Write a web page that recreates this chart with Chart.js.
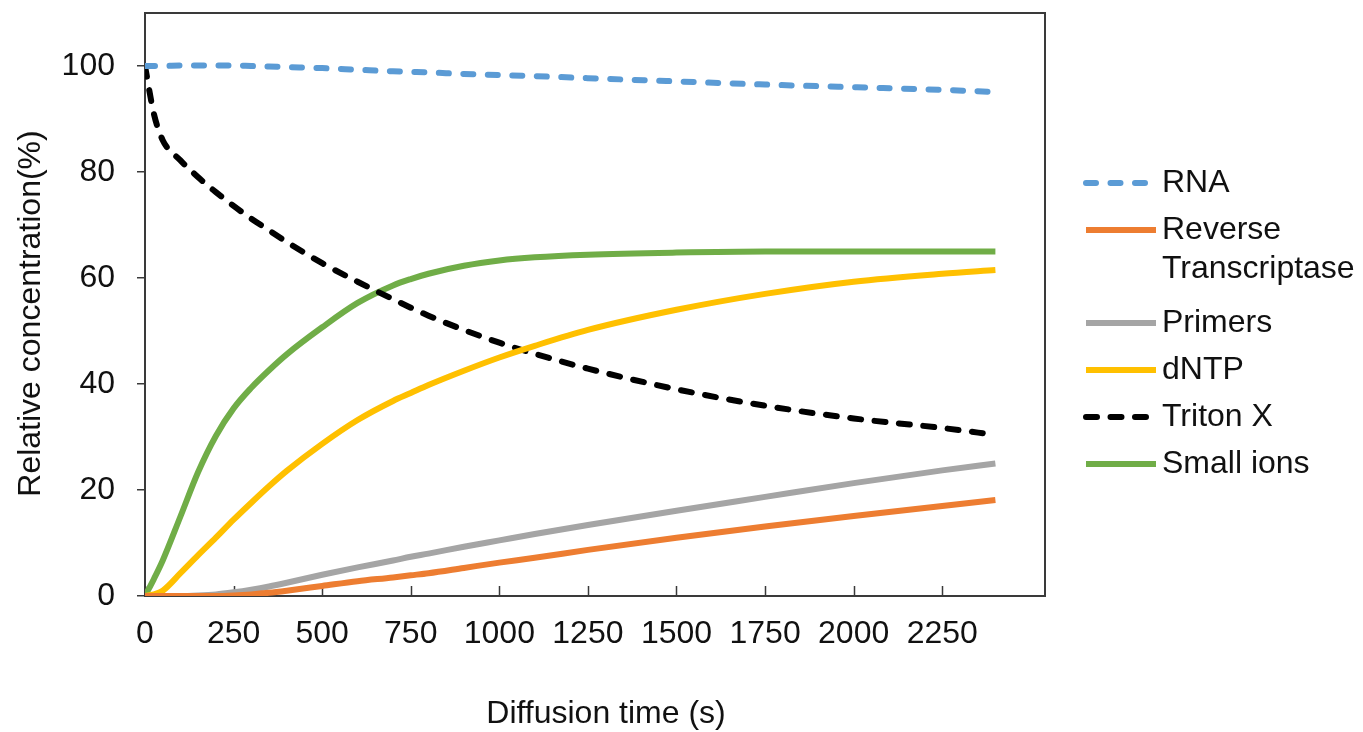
<!DOCTYPE html>
<html>
<head>
<meta charset="utf-8">
<script src="https://cdn.jsdelivr.net/npm/chart.js@4.4.1/dist/chart.umd.min.js"></script>
<style>
  body { margin: 0; background: #fff; }
  canvas { display: block; }
</style>
</head>
<body>
<canvas id="diffChart" width="1363" height="732"></canvas>
<script>
// diffusion time (s)
const times = [0, 25, 50, 100, 150, 200, 250, 300, 350, 400, 500, 600, 700, 750, 800, 900, 1000, 1100, 1250, 1500, 1750, 2000, 2250, 2400];

// relative concentration (%) per species
const rna       = [100, 100, 100, 100.1, 100.1, 100.1, 100.1, 100, 99.9, 99.8, 99.6, 99.3, 99.0, 98.9, 98.8, 98.5, 98.3, 98.1, 97.7, 97.1, 96.5, 96, 95.5, 95.1];
const revTrans  = [0, 0, 0, 0, 0, 0, 0.1, 0.3, 0.6, 1.0, 1.9, 2.8, 3.5, 3.9, 4.3, 5.3, 6.3, 7.2, 8.7, 11, 13.1, 15.1, 17, 18.1];
const primers   = [0, 0, 0, 0, 0.1, 0.3, 0.7, 1.2, 1.8, 2.5, 4.0, 5.4, 6.7, 7.4, 8.0, 9.3, 10.5, 11.7, 13.4, 16.1, 18.7, 21.3, 23.7, 25];
const dntp      = [0, 0.3, 1.0, 4.3, 7.7, 11, 14.4, 17.6, 20.7, 23.6, 28.7, 33.2, 36.8, 38.3, 39.8, 42.5, 45.0, 47.2, 50.2, 54, 57, 59.3, 60.8, 61.5];
const tritonX   = [100, 91, 86, 82.2, 79, 76.2, 73.6, 71.2, 69.0, 66.8, 62.8, 59.3, 56.0, 54.4, 52.9, 50.2, 47.8, 45.7, 42.9, 39, 35.9, 33.5, 31.7, 30.4];
const smallIons = [0, 3.2, 6.7, 15, 23.4, 30.2, 35.4, 39.3, 42.6, 45.6, 50.7, 55.3, 58.6, 59.8, 60.8, 62.3, 63.3, 63.9, 64.4, 64.8, 65, 65, 65, 65];

const seriesNames = ['RNA', 'Reverse Transcriptase', 'Primers', 'dNTP', 'Triton X', 'Small ions'];

// tick labels
const xTicks = [0, 250, 500, 750, 1000, 1250, 1500, 1750, 2000, 2250];
const yTicks = [0, 20, 40, 60, 80, 100];

const xTitle = 'Diffusion time (s)';
const yTitle = 'Relative concentration(%)';

const FONT = '"Liberation Sans", Arial, sans-serif';
const FS = 32;
const TXT = '#111';

function pts(vals) {
    return times.map((t, i) => ({ x: t, y: vals[i] }));
}

function line(label, vals, color, dash) {
    return {
        label: label,
        data: pts(vals),
        borderColor: color,
        backgroundColor: color,
        borderWidth: 6,
        borderDash: dash || [],
        borderCapStyle: dash ? 'round' : 'butt',
        pointRadius: 0,
        cubicInterpolationMode: 'monotone',
        fill: false
    };
}

// plot frame, inward x ticks, axis titles
const framePlugin = {
    id: 'frame',
    beforeDatasetsDraw(chart) {
        const { ctx, chartArea: a, scales } = chart;
        ctx.save();
        ctx.strokeStyle = '#3a3a3a';
        ctx.lineWidth = 2;
        ctx.strokeRect(a.left, a.top, a.right - a.left, a.bottom - a.top);
        ctx.lineWidth = 1.5;
        scales.x.ticks.forEach(t => {
            const px = Math.round(scales.x.getPixelForValue(t.value)) + 0.5;
            ctx.beginPath();
            ctx.moveTo(px, a.bottom);
            ctx.lineTo(px, a.bottom - 10);
            ctx.stroke();
        });

        ctx.fillStyle = TXT;
        ctx.font = FS + 'px ' + FONT;
        ctx.textAlign = 'center';
        ctx.textBaseline = 'middle';
        ctx.fillText(xTitle, (a.left + a.right) / 2 + 11, 714);
        ctx.translate(31, (a.top + a.bottom) / 2 + 9);
        ctx.rotate(-Math.PI / 2);
        ctx.fillText(yTitle, 0, 0);
        ctx.restore();
    }
};

// legend on the right, wraps long names
const sideLegend = {
    id: 'sideLegend',
    afterDraw(chart) {
        const ctx = chart.ctx;
        const x0 = chart.chartArea.right + 38;
        const textX = x0 + 79;
        const maxW = chart.width - textX;
        let y = 183;
        ctx.save();
        ctx.font = FS + 'px ' + FONT;
        ctx.textBaseline = 'middle';
        ctx.fillStyle = TXT;
        chart.data.datasets.forEach(ds => {
            // word wrap
            const words = ds.label.split(' ');
            const lines = [];
            let cur = '';
            words.forEach(w => {
                const test = cur ? cur + ' ' + w : w;
                if (cur && ctx.measureText(test).width > maxW) {
                    lines.push(cur);
                    cur = w;
                } else {
                    cur = test;
                }
            });
            lines.push(cur);

            ctx.save();
            ctx.strokeStyle = ds.borderColor;
            ctx.lineWidth = ds.borderWidth;
            ctx.setLineDash(ds.borderDash);
            ctx.lineCap = ds.borderCapStyle;
            ctx.beginPath();
            ctx.moveTo(x0 + 3, y);
            ctx.lineTo(x0 + 73, y);
            ctx.stroke();
            ctx.restore();

            lines.forEach((ln, k) => ctx.fillText(ln, textX, y + k * 39));
            y += 47 + (lines.length - 1) * 46;
        });
        ctx.restore();
    }
};

const ctx = document.getElementById('diffChart');

const diffChart = new Chart(ctx, {
    type: 'line',
    data: {
        datasets: [
            line(seriesNames[0], rna, '#5B9BD5', [10, 14.5]),
            line(seriesNames[1], revTrans, '#ED7D31'),
            line(seriesNames[2], primers, '#A5A5A5'),
            line(seriesNames[3], dntp, '#FFC000'),
            line(seriesNames[4], tritonX, '#000000', [11, 13.5]),
            line(seriesNames[5], smallIons, '#70AD47')
        ]
    },
    options: {
        responsive: false,
        animation: false,
        layout: { padding: { left: 0, top: 13, right: 318, bottom: 0 } },
        plugins: {
            legend: { display: false },
            tooltip: { enabled: false }
        },
        scales: {
            x: {
                type: 'linear',
                min: 0,
                max: 2540,
                afterBuildTicks: s => { s.ticks = xTicks.map(v => ({ value: v })); },
                afterFit: s => { s.height = 136; s.paddingLeft = 0; s.paddingRight = 0; },
                ticks: {
                    autoSkip: false,
                    maxRotation: 0,
                    padding: 19,
                    color: TXT,
                    font: { family: FONT, size: FS },
                    callback: v => String(v)
                },
                grid: { display: false, drawTicks: false },
                border: { display: false }
            },
            y: {
                min: 0,
                max: 110,
                afterBuildTicks: s => { s.ticks = yTicks.map(v => ({ value: v })); },
                afterFit: s => { s.width = 145; s.paddingTop = 0; s.paddingBottom = 0; },
                ticks: {
                    autoSkip: false,
                    padding: 22,
                    color: TXT,
                    font: { family: FONT, size: FS },
                    callback: v => String(v)
                },
                grid: {
                    drawOnChartArea: false,
                    drawTicks: true,
                    tickLength: 8,
                    color: '#3a3a3a',
                    lineWidth: 1.5
                },
                border: { display: false }
            }
        }
    },
    plugins: [framePlugin, sideLegend]
});
</script>
</body>
</html>
